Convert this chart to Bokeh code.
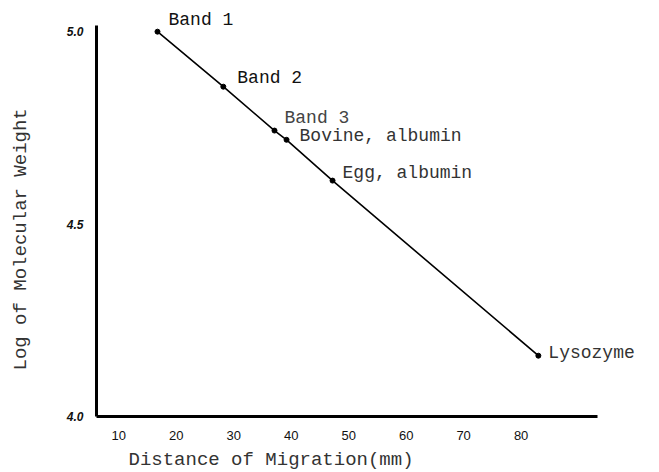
from bokeh.plotting import figure
from bokeh.models import ColumnDataSource, LabelSet, Title, FixedTicker, Range1d
from bokeh.core.properties import value
from bokeh.embed import file_html
from bokeh.resources import INLINE

# Data
names = ["Band 1", "Band 2", "Band 3", "Bovine, albumin", "Egg, albumin", "Lysozyme"]
distance_mm = [16.75, 28.2, 37.1, 39.2, 47.2, 83.0]
log_mw = [5.0, 4.857, 4.743, 4.719, 4.613, 4.158]
x_ticks = [10, 20, 30, 40, 50, 60, 70, 80]
y_ticks = [4.0, 4.5, 5.0]

# label styling (pixel offsets from each point)
label_dx = [11, 14, 10, 13, 10, 10]
label_dy = [12, 9, 13, 4, 8, 3]
label_color = ["#111111", "#111111", "#444444", "#333333", "#333333", "#333333"]

src = ColumnDataSource(dict(x=distance_mm, y=log_mw, name=names,
                            dx=label_dx, dy=label_dy, c=label_color))

p = figure(frame_width=555, frame_height=416, output_backend="svg", toolbar_location=None,
           x_range=Range1d(6.14, 102.68), y_range=Range1d(4.0, 5.081),
           min_border_left=96, min_border_right=0, min_border_top=0,
           min_border_bottom=0)
p.title.visible = False
p.outline_line_color = None
p.grid.visible = False
p.background_fill_color = "white"
p.border_fill_color = "white"

p.line("x", "y", source=src, line_color="black", line_width=1.6)
p.scatter("x", "y", source=src, size=5, color="black")

labels = LabelSet(x="x", y="y", text="name", source=src, x_offset="dx", y_offset="dy",
                  text_font=value("Liberation Mono"), text_font_size=value("18px"),
                  text_color="c", text_baseline="middle", text_align="left")
p.add_layout(labels)

# axes
for ax in (p.xaxis[0], p.yaxis[0]):
    ax.axis_line_width = 3
    ax.axis_line_color = "black"
    ax.major_tick_line_color = None
    ax.minor_tick_line_color = None
    ax.major_tick_out = 0
    ax.major_tick_in = 0

p.xaxis.bounds = (6.14, 93.3)
p.xaxis.ticker = FixedTicker(ticks=x_ticks)
p.xaxis.major_label_standoff = 14
p.xaxis.major_label_text_font = "Liberation Sans"
p.xaxis.major_label_text_font_size = "13px"
p.xaxis.major_label_text_color = "#111111"

p.yaxis.bounds = (4.0, 5.016)
p.yaxis.ticker = FixedTicker(ticks=y_ticks)
p.yaxis.major_label_overrides = {4.0: "4.0", 4.5: "4.5", 5.0: "5.0"}
p.yaxis.major_label_standoff = 13
p.yaxis.major_label_text_font = "Liberation Sans"
p.yaxis.major_label_text_font_size = "12px"
p.yaxis.major_label_text_font_style = "bold italic"
p.yaxis.major_label_text_color = "#111111"

# axis titles
xt = Title(text="Distance of Migration(mm)", align="left", offset=32,
           text_font="Liberation Mono", text_font_size="19px",
           text_font_style="normal", text_color="#333333", standoff=9)
p.add_layout(xt, "below")
# empty spacer title pushes the vertical title further left
p.add_layout(Title(text=" ", text_font_size="13px"), "left")
yt = Title(text="Log of Molecular Weight", align="left", offset=46,
           text_font="Liberation Mono", text_font_size="19px",
           text_font_style="normal", text_color="#333333")
p.add_layout(yt, "left")

open("out.html", "w").write(file_html(p, INLINE))
